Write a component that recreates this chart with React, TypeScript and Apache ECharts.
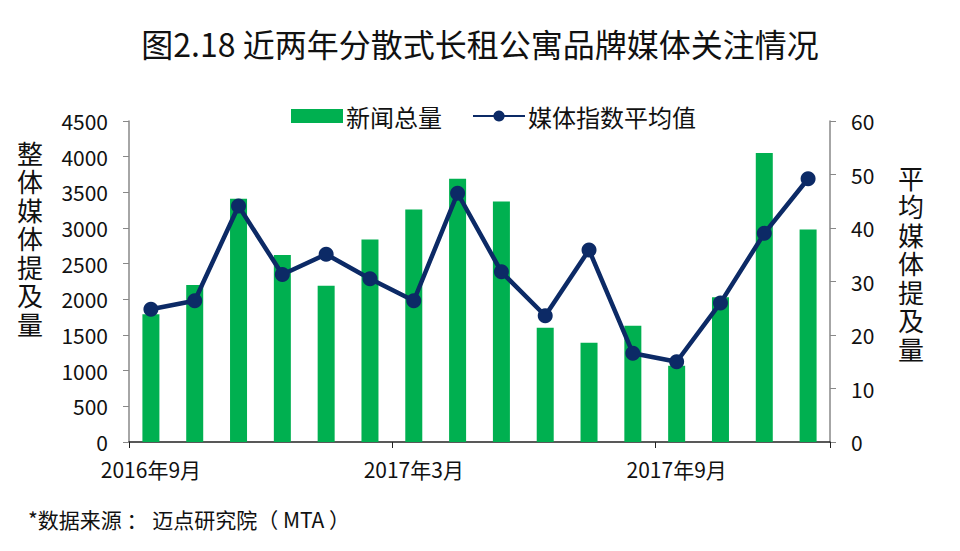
import React, { useEffect, useRef } from "react";
import * as echarts from "echarts";

const categories = [
  "2016年9月", "2016年10月", "2016年11月", "2016年12月",
  "2017年1月", "2017年2月", "2017年3月", "2017年4月",
  "2017年5月", "2017年6月", "2017年7月", "2017年8月",
  "2017年9月", "2017年10月", "2017年11月", "2017年12月",
];
const newsTotal = [1790, 2200, 3410, 2620, 2190, 2840, 3260, 3690, 3370, 1600, 1390, 1630, 1070, 2030, 4050, 2980];
const mediaIndexAvg = [24.8, 26.4, 44.1, 31.3, 35.1, 30.5, 26.4, 46.5, 31.8, 23.6, 35.9, 16.6, 15.0, 26.0, 39.0, 49.2];
const leftAxisName = ["整", "体", "媒", "体", "提", "及", "量"];
const rightAxisName = ["平", "均", "媒", "体", "提", "及", "量"];

const FONT = "'Noto Sans CJK SC', 'Noto Sans', sans-serif";

export default function App() {
  const ref = useRef<HTMLDivElement>(null);
  useEffect(() => {
    if (!ref.current) return;
    const chart = echarts.init(ref.current, null, { renderer: "svg" });
    const vertName = (chars: string[], x: number, y0: number) =>
      chars.map((c, i) => ({
        type: "text",
        left: x,
        top: y0 + i * 28.5,
        style: { text: c, fontFamily: FONT, fontSize: 26, lineHeight: 28, fill: "#111" },
      }));
    chart.setOption({
      animation: false,
      backgroundColor: "#ffffff",
      title: {
        text: "图2.18 近两年分散式长租公寓品牌媒体关注情况",
        left: "center",
        top: 22,
        textStyle: { fontFamily: FONT, fontSize: 32, fontWeight: "normal", color: "#111" },
      },
      legend: {
        top: 99,
        left: 286,
        itemWidth: 52,
        itemHeight: 14,
        itemGap: 30,
        textStyle: { fontFamily: FONT, fontSize: 24, color: "#111", padding: [0, 0, 0, -2] },
        data: [
          { name: "新闻总量", icon: "rect" },
          { name: "媒体指数平均值" },
        ],
      },
      grid: { left: 129, right: 130, top: 121, bottom: 109 },
      xAxis: {
        type: "category",
        data: categories,
        boundaryGap: true,
        axisLine: { lineStyle: { color: "#222", width: 1.5 } },
        axisTick: { show: true, interval: 5, length: 6, lineStyle: { color: "#222" } },
        axisLabel: {
          interval: 5,
          margin: 16,
          fontFamily: FONT,
          fontSize: 21,
          color: "#111",
        },
      },
      yAxis: [
        {
          type: "value",
          min: 0,
          max: 4500,
          interval: 500,
          splitLine: { show: false },
          axisLine: { show: true, lineStyle: { color: "#888", width: 1.5 } },
          axisTick: { show: true, length: 6, lineStyle: { color: "#888" } },
          axisLabel: { margin: 21, fontFamily: FONT, fontSize: 21, color: "#111", formatter: (v: number) => String(v) },
        },
        {
          type: "value",
          min: 0,
          max: 60,
          interval: 10,
          splitLine: { show: false },
          axisLine: { show: true, lineStyle: { color: "#888", width: 1.5 } },
          axisTick: { show: true, length: 6, lineStyle: { color: "#888" } },
          axisLabel: { margin: 21, fontFamily: FONT, fontSize: 21, color: "#111", formatter: (v: number) => String(v) },
        },
      ],
      graphic: [
        ...vertName(leftAxisName, 17, 138),
        ...vertName(rightAxisName, 898, 163),
        {
          type: "text",
          left: 28,
          top: 508,
          style: {
            text: "*数据来源 ： 迈点研究院（ MTA ）",
            fontFamily: FONT,
            fontSize: 21,
            fill: "#111",
          },
        },
      ],
      series: [
        {
          name: "新闻总量",
          type: "bar",
          data: newsTotal,
          barWidth: 17,
          itemStyle: { color: "#00b050" },
        },
        {
          name: "媒体指数平均值",
          type: "line",
          yAxisIndex: 1,
          data: mediaIndexAvg,
          symbol: "circle",
          symbolSize: 15,
          lineStyle: { color: "#0c2a66", width: 4.5 },
          itemStyle: { color: "#0c2a66" },
        },
      ],
    });
    return () => chart.dispose();
  }, []);
  return (
    <div
      ref={ref}
      style={{ position: "fixed", left: 0, top: 0, width: 960, height: 551 }}
    />
  );
}
